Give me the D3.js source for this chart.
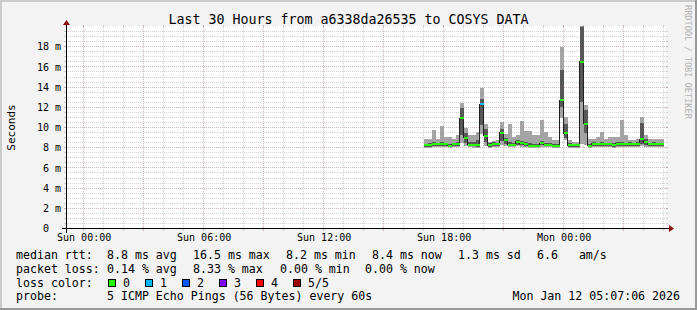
<!DOCTYPE html>
<html>
<head>
<meta charset="utf-8">
<script src="https://cdn.jsdelivr.net/npm/d3@7"></script>
<style>
html, body { margin: 0; padding: 0; background: #f3f3f3; }
svg { display: block; }
text { font-family: "DejaVu Sans Mono", monospace; white-space: pre; }
</style>
</head>
<body>
<svg id="chart" width="697" height="310"></svg>
<script>
// ------ Data (ms), 5 pings per 12 min sample
var startTime = new Date(Date.UTC(2026, 0, 10, 23, 7, 6));
var endTime   = new Date(Date.UTC(2026, 0, 12, 5, 7, 6));
var firstSample = Date.UTC(2026, 0, 11, 17, 0, 0);
var sampleMinutes = 12;

var pingMin = [8.0,8.0,8.05,8.05,8.05,8.05,8.0,8.05,8.05,8.45, 8.2,8.05,8.0,8.0,9.4,8.2,8.0,8.1,8.05,8.3,
               8.2,8.05,8.05,8.15,8.1,8.05,8.0,8.0,8.0,8.1, 8.05,8.05,8.0,8.0,10.9,8.8,8.0,8.0,8.0,8.4,
               8.3,8.0,8.05,8.05,8.05,8.05,8.05,8.0,8.05,8.05, 8.05,8.05,8.05,8.05,8.2,8.1,8.05,8.05,8.05,8.05];
var ping2   = [8.1,8.1,8.15,8.2,8.2,8.15,8.1,8.15,8.15,9.3, 8.5,8.15,8.15,8.1,10.2,8.6,8.1,8.2,8.15,8.7,
               8.4,8.15,8.15,8.3,8.25,8.2,8.1,8.1,8.1,8.25, 8.15,8.15,8.1,8.1,12.0,9.0,8.1,8.1,8.1,12.5,
               9.45,8.1,8.2,8.15,8.2,8.15,8.15,8.1,8.2,8.2, 8.15,8.2,8.15,8.2,8.4,8.3,8.15,8.2,8.15,8.15];
var median  = [8.25,8.25,8.35,8.35,8.35,8.35,8.2,8.35,8.35,10.9, 9.0,8.3,8.3,8.3,12.3,9.2,8.25,8.4,8.35,9.5,
               8.8,8.3,8.3,8.6,8.45,8.35,8.2,8.2,8.2,8.45, 8.3,8.3,8.2,8.2,12.7,9.45,8.25,8.25,8.25,16.5,
               10.35,8.2,8.4,8.35,8.4,8.35,8.35,8.3,8.4,8.4, 8.35,8.4,8.35,8.4,8.85,8.55,8.35,8.4,8.35,8.4];
var ping4   = [8.4,8.45,8.6,8.5,8.6,8.5,8.4,8.5,8.55,11.9, 9.5,8.6,8.6,8.8,12.8,9.9,8.45,8.55,8.5,9.9,
               9.0,8.6,8.5,8.8,8.7,8.6,8.45,8.4,8.4,8.7, 8.5,8.45,8.4,8.4,15.7,10.35,8.45,8.4,8.4,21,
               11.7,8.4,8.55,8.5,8.55,8.5,8.5,8.45,8.55,8.6, 8.5,8.55,8.5,8.55,10.4,8.9,8.5,8.55,8.5,8.5];
var pingMax = [8.85,8.85,9.75,8.85,10.1,9.05,9.05,8.85,9.3,12.45, 10.0,9.3,9.3,9.6,13.9,10.3,8.6,8.7,8.8,10.5,
               9.4,10.35,9.05,9.3,10.6,9.7,9.7,9.25,9.25,10.7, 9.6,9.05,8.75,8.75,18.0,11.05,8.75,8.6,8.6,22,
               12.2,8.85,8.85,9.1,9.6,8.85,9.1,9.1,9.1,10.7, 9.25,8.8,8.8,8.85,11.0,9.3,8.85,8.85,8.85,8.85];
var lossCount = [0,0,0,0,0,0,0,0,0,0, 0,0,0,0,1,0,0,0,0,0, 0,0,0,0,0,0,0,0,0,0,
                 0,0,0,0,0,0,0,0,0,0, 0,0,0,0,0,0,0,0,0,0, 0,0,0,0,0,0,0,0,0,0];

var lossLabels = ["0", "1", "2", "3", "4", "5/5"];
var lossColors = ["#26ff00", "#00b8ff", "#0059ff", "#7e00ff", "#ff0000", "#a10000"];

var titleText = "Last 30 Hours from a6338da26535 to COSYS DATA";
var rttLabels  = ["8.8 ms avg", "16.5 ms max", "8.2 ms min", "8.4 ms now", "1.3 ms sd", "6.6   am/s"];
var lossStats  = ["0.14 % avg", "8.33 % max", "0.00 % min", "0.00 % now"];
var probeText  = "5 ICMP Echo Pings (56 Bytes) every 60s";
var dateText   = "Mon Jan 12 05:07:06 2026";

// ------ Layout
var W = 697, H = 310;
var xOrigin = 66, xSize = 600, yOrigin = 228.5, ySize = 202;
var legendFont = 11.6;

var samples = median.map(function(d, i) {
	return {
		t0: new Date(firstSample + i * sampleMinutes * 60000),
		t1: new Date(firstSample + (i + 1) * sampleMinutes * 60000),
		p1: pingMin[i], p2: ping2[i], med: d, p4: ping4[i], p5: pingMax[i], loss: lossCount[i]
	};
});

var x = d3.scaleUtc().domain([startTime, endTime]).range([xOrigin, xOrigin + xSize]);
var y = d3.scaleLinear().domain([0, 20]).range([yOrigin, yOrigin - ySize]);
var sWidth = 20 / ySize; // one pixel in value units

var svg = d3.select("#chart");

// background and 3d border
svg.append("rect").attr("width", W).attr("height", H).attr("fill", "#f3f3f3");
svg.append("rect").attr("x", 0).attr("y", 0).attr("width", W).attr("height", 2).attr("fill", "#cbcbcb");
svg.append("rect").attr("x", 0).attr("y", 0).attr("width", 2).attr("height", H).attr("fill", "#cbcbcb");
svg.append("rect").attr("x", 0).attr("y", H - 2).attr("width", W).attr("height", 2).attr("fill", "#999999");
svg.append("rect").attr("x", W - 2).attr("y", 0).attr("width", 2).attr("height", H).attr("fill", "#999999");

// canvas
svg.append("rect").attr("x", xOrigin).attr("y", yOrigin - ySize).attr("width", xSize).attr("height", ySize)
	.attr("fill", "#ffffff");

svg.append("clipPath").attr("id", "canvasClip")
  .append("rect").attr("x", xOrigin).attr("y", yOrigin - ySize).attr("width", xSize).attr("height", ySize);

// ------ Grid
var minorColor = "rgba(140,140,140,0.38)", majorColor = "rgba(130,30,30,0.33)";
var minorY = d3.range(0.5, 20, 0.5).filter(function(v) { return v % 2 !== 0; });
var majorY = y.ticks(10).filter(function(v) { return v > 0 && v < 20; });
var minorX = d3.utcHour.every(1).range(startTime, endTime).filter(function(t) { return t.getUTCHours() % 3 !== 0; });
var majorX = d3.utcHour.every(3).range(startTime, endTime);

var grid = svg.append("g").attr("shape-rendering", "crispEdges");
function hGrid(vals, color) {
	vals.forEach(function(v) {
		var yy = Math.floor(y(v)) + 0.5;
		grid.append("line").attr("x1", xOrigin).attr("x2", xOrigin + xSize).attr("y1", yy).attr("y2", yy)
			.attr("stroke", color).attr("stroke-dasharray", "1,1");
		grid.append("line").attr("x1", xOrigin - 2).attr("x2", xOrigin).attr("y1", yy).attr("y2", yy).attr("stroke", color);
		grid.append("line").attr("x1", xOrigin + xSize).attr("x2", xOrigin + xSize + 2).attr("y1", yy).attr("y2", yy).attr("stroke", color);
	});
}
function vGrid(vals, color) {
	vals.forEach(function(t) {
		var xx = Math.floor(x(t)) + 0.5;
		grid.append("line").attr("x1", xx).attr("x2", xx).attr("y1", yOrigin - ySize).attr("y2", yOrigin)
			.attr("stroke", color).attr("stroke-dasharray", "1,1");
		grid.append("line").attr("x1", xx).attr("x2", xx).attr("y1", yOrigin).attr("y2", yOrigin + 2.5).attr("stroke", color);
		grid.append("line").attr("x1", xx).attr("x2", xx).attr("y1", yOrigin - ySize - 2).attr("y2", yOrigin - ySize).attr("stroke", color);
	});
}
hGrid(minorY, minorColor);
vGrid(minorX, minorColor);
hGrid(majorY, majorColor);
vGrid(majorX, majorColor);

// ------ Smoke
var plot = svg.append("g").attr("clip-path", "url(#canvasClip)").attr("shape-rendering", "crispEdges");

plot.selectAll(".smokeOuter").data(samples).enter().append("rect")
	.attr("class", "smokeOuter")
	.attr("x", function(d) { return x(d.t0); })
	.attr("width", function(d) { return x(d.t1) - x(d.t0); })
	.attr("y", function(d) { return y(d.p5); })
	.attr("height", function(d) { return y(d.p1) - y(d.p5); })
	.attr("fill", "#a4a4a4");

plot.selectAll(".smokeInner").data(samples).enter().append("rect")
	.attr("class", "smokeInner")
	.attr("x", function(d) { return x(d.t0); })
	.attr("width", function(d) { return x(d.t1) - x(d.t0); })
	.attr("y", function(d) { return y(d.p4); })
	.attr("height", function(d) { return y(d.p2) - y(d.p4); })
	.attr("fill", "#585858");

// median line
var medianPts = samples.map(function(d) { return [x(d.t0), y(d.med)]; });
var lastS = samples[samples.length - 1];
medianPts.push([x(lastS.t1), y(lastS.med)]);
plot.append("path")
	.attr("d", d3.line().curve(d3.curveStepAfter)(medianPts))
	.attr("fill", "none")
	.attr("stroke", "#202020")
	.attr("stroke-width", 1);

// loss coloured median band
plot.selectAll(".lossBand").data(samples).enter().append("rect")
	.attr("class", "lossBand")
	.attr("x", function(d) { return x(d.t0); })
	.attr("width", function(d) { return x(d.t1) - x(d.t0); })
	.attr("y", function(d) { return y(d.med + sWidth); })
	.attr("height", function(d) { return y(d.med - sWidth) - y(d.med + sWidth); })
	.attr("fill", function(d) { return lossColors[d.loss]; });

// ------ Axes
var axisColor = "#000000", arrowColor = "#8b1010";
svg.append("line").attr("x1", xOrigin - 4).attr("x2", xOrigin + xSize + 4).attr("y1", yOrigin).attr("y2", yOrigin)
	.attr("stroke", axisColor).attr("shape-rendering", "crispEdges");
svg.append("line").attr("x1", xOrigin + 0.5).attr("x2", xOrigin + 0.5).attr("y1", yOrigin + 4).attr("y2", yOrigin - ySize - 4)
	.attr("stroke", axisColor).attr("shape-rendering", "crispEdges");
svg.append("path")
	.attr("d", "M" + (xOrigin + xSize + 3) + "," + (yOrigin - 3.5) + "L" + (xOrigin + xSize + 8) + "," + yOrigin +
		"L" + (xOrigin + xSize + 3) + "," + (yOrigin + 3.5) + "Z")
	.attr("fill", arrowColor);
svg.append("path")
	.attr("d", "M" + (xOrigin + 0.5 - 3.5) + "," + (yOrigin - ySize - 1.5) + "L" + (xOrigin + 0.5) + "," + (yOrigin - ySize - 6.5) +
		"L" + (xOrigin + 0.5 + 3.5) + "," + (yOrigin - ySize - 1.5) + "Z")
	.attr("fill", arrowColor);

var xAxisG = svg.append("g")
	.attr("transform", "translate(0," + yOrigin + ")")
	.call(d3.axisBottom(x).ticks(d3.utcHour.every(6)).tickFormat(d3.utcFormat("%a %H:%M")).tickSize(0).tickPadding(5.7));
xAxisG.select(".domain").remove();
xAxisG.attr("font-family", "DejaVu Sans Mono").attr("font-size", 10);
xAxisG.selectAll("text").attr("fill", "#000");

var yAxisG = svg.append("g")
	.attr("transform", "translate(" + (xOrigin + 0.5) + ",0)")
	.call(d3.axisLeft(y).tickValues(d3.range(0, 20, 2))
		.tickFormat(function(d) { return d === 0 ? "0\u00a0\u00a0" : d + " m"; })
		.tickSize(0).tickPadding(5.5));
yAxisG.select(".domain").remove();
yAxisG.attr("font-family", "DejaVu Sans Mono").attr("font-size", 10);
yAxisG.selectAll("text").attr("fill", "#000");

// axis title
svg.append("text")
	.attr("transform", "translate(15,127.5) rotate(-90)")
	.attr("text-anchor", "middle")
	.style("font-size", "11px")
	.text("Seconds");

// title
svg.append("text")
	.attr("x", 348.5).attr("y", 23.5)
	.attr("text-anchor", "middle")
	.style("font-size", "13.3px")
	.text(titleText);

// watermark
svg.append("text")
	.attr("transform", "translate(685,5) rotate(90)")
	.style("font-size", "8.6px")
	.attr("fill", "#b4b4b4")
	.text("RRDTOOL / TOBI OETIKER");

// ------ Legend
var rowY = [258.5, 272.5, 286.5, 300.3];
var rttX = [107, 193, 286, 372, 458, 537];
var lossX = [107, 193, 280, 365];
var legend = svg.append("g").style("font-size", legendFont + "px").attr("fill", "#000");

legend.append("text").attr("x", 16).attr("y", rowY[0]).text("median rtt:");
rttLabels.forEach(function(s, i) { legend.append("text").attr("x", rttX[i]).attr("y", rowY[0]).text(s); });

legend.append("text").attr("x", 16).attr("y", rowY[1]).text("packet loss:");
lossStats.forEach(function(s, i) { legend.append("text").attr("x", lossX[i]).attr("y", rowY[1]).text(s); });

legend.append("text").attr("x", 16).attr("y", rowY[2]).text("loss color:");
lossLabels.forEach(function(s, i) {
	var bx = 108.5 + i * 37;
	legend.append("rect").attr("x", bx).attr("y", 279).attr("width", 7).attr("height", 7)
		.attr("fill", lossColors[i]).attr("stroke", "#000").attr("stroke-width", 1)
		.attr("shape-rendering", "crispEdges");
	legend.append("text").attr("x", bx + 14.5).attr("y", rowY[2]).text(s);
});

legend.append("text").attr("x", 16).attr("y", rowY[3]).text("probe:");
legend.append("text").attr("x", 107).attr("y", rowY[3]).text(probeText);

legend.append("text").attr("x", 680).attr("y", 299.5).attr("text-anchor", "end").text(dateText);
</script>
</body>
</html>
